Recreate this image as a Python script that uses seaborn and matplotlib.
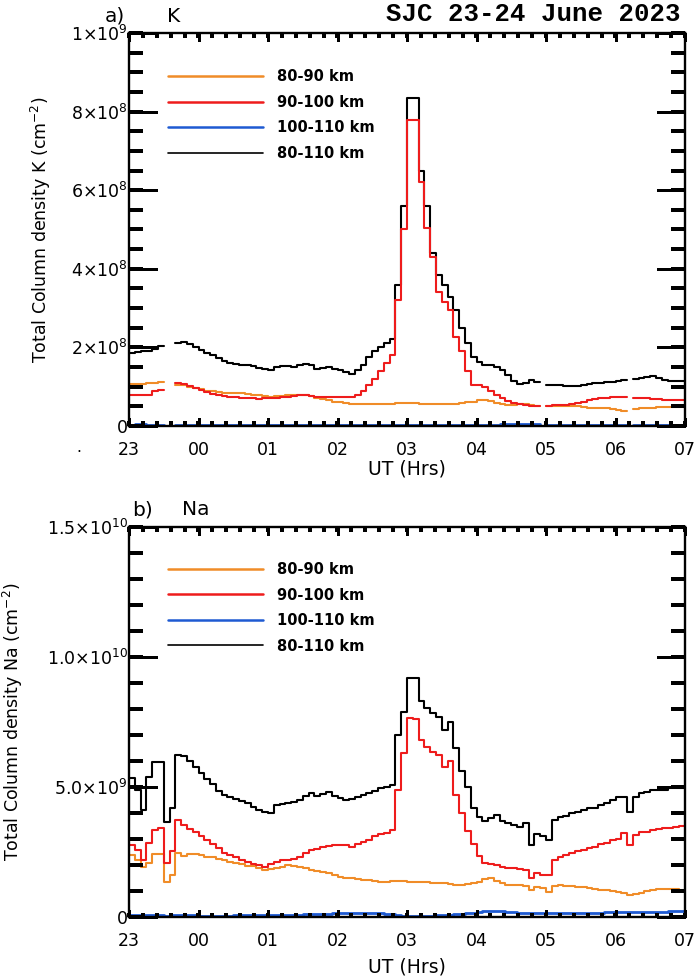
import numpy as np
import pandas as pd
import matplotlib
matplotlib.use('Agg')
import matplotlib.pyplot as plt
from matplotlib.lines import Line2D
from matplotlib.collections import LineCollection
from matplotlib.ticker import FixedLocator, FixedFormatter
import seaborn as sns

nan = np.nan

# ---------------- data ----------------
hour_labels = ['23', '00', '01', '02', '03', '04', '05', '06', '07']
hour_ticks = [23, 24, 25, 26, 27, 28, 29, 30, 31]
series_labels = ['80-90 km', '90-100 km', '100-110 km', '80-110 km']
series_colors = ['#F08C28', '#EE1C1C', '#1E5AD2', '#000000']
start_hour = 23.0
step_hours = 5.0 / 60.0

k_tick_values = [0, 2e8, 4e8, 6e8, 8e8, 1e9]
k_tick_labels = ['0', '2×10$^{8}$', '4×10$^{8}$', '6×10$^{8}$', '8×10$^{8}$', '1×10$^{9}$']
na_tick_values = [0, 5e9, 1e10, 1.5e10]
na_tick_labels = ['0', '5.0×10$^{9}$', '1.0×10$^{10}$', '1.5×10$^{10}$']

# K column densities, units of 1e8 cm^-2, 5-minute samples from 23:00 UT
k_80_90 = [1.07, 1.07, 1.08, 1.09, 1.10, 1.12, nan, nan, 1.05, 1.04, 1.00, 0.96, 0.93, 0.90, 0.88, 0.86,
           0.84, 0.84, 0.83, 0.83, 0.82, 0.80, 0.79, 0.76,
           0.74, 0.76, 0.77, 0.78, 0.78, 0.79, 0.78, 0.76, 0.72, 0.69, 0.66, 0.62, 0.60, 0.58, 0.57, 0.56,
           0.56, 0.56, 0.57, 0.56, 0.56, 0.57, 0.58, 0.58,
           0.59, 0.58, 0.57, 0.56, 0.56, 0.55, 0.56, 0.56, 0.57, 0.58, 0.60, 0.62, 0.65, 0.66, 0.63, 0.58,
           0.55, 0.53, 0.53, 0.55, 0.56, 0.54, 0.51, nan,
           0.51, 0.51, 0.51, 0.51, 0.50, 0.50, 0.48, 0.47, 0.47, 0.46, 0.45, 0.43, 0.41, 0.37, nan, 0.43,
           0.45, 0.46, 0.47, 0.48, 0.48, 0.48, 0.48, 0.48]
k_90_100 = [0.79, 0.79, 0.80, 0.80, 0.88, 0.92, nan, nan, 1.09, 1.08, 1.02, 0.97, 0.92, 0.86, 0.82, 0.79,
            0.77, 0.74, 0.73, 0.72, 0.71, 0.70, 0.69, 0.70,
            0.71, 0.72, 0.73, 0.75, 0.77, 0.79, 0.78, 0.76, 0.74, 0.74, 0.75, 0.74, 0.74, 0.74, 0.75, 0.80,
            0.90, 1.05, 1.20, 1.40, 1.60, 1.80, 3.20, 5.00,
            7.79, 7.79, 6.20, 5.05, 4.30, 3.40, 3.15, 2.95, 2.26, 1.90, 1.40, 1.05, 1.05, 0.98, 0.90, 0.80,
            0.72, 0.63, 0.58, 0.55, 0.53, 0.52, 0.50, nan,
            0.52, 0.53, 0.53, 0.53, 0.55, 0.58, 0.62, 0.66, 0.68, 0.70, 0.72, 0.73, 0.74, 0.74, nan, 0.72,
            0.70, 0.70, 0.69, 0.68, 0.67, 0.66, 0.66, 0.66]
k_100_110 = [0.02, 0.04, 0.05, 0.03, 0.02, 0.02, nan, nan, 0.02, 0.02, 0.02, 0.02, 0.02, 0.02, 0.02, 0.02,
             0.02, 0.02, 0.02, 0.02, 0.02, 0.02, 0.02, 0.02,
             0.02, 0.02, 0.02, 0.02, 0.02, 0.02, 0.02, 0.02, 0.02, 0.02, 0.02, 0.02, 0.02, 0.02, 0.02, 0.02,
             0.02, 0.02, 0.02, 0.02, 0.02, 0.02, 0.02, 0.02,
             0.02, 0.02, 0.02, 0.02, 0.02, 0.02, 0.02, 0.02, 0.02, 0.02, 0.02, 0.02, 0.02, 0.02, 0.03, 0.03,
             0.04, 0.04, 0.05, 0.05, 0.05, 0.06, 0.05, nan,
             0.02, 0.02, 0.02, 0.02, 0.02, 0.02, 0.02, 0.02, 0.02, 0.02, 0.02, 0.02, 0.02, 0.02, nan, 0.02,
             0.02, 0.02, 0.02, 0.02, 0.02, 0.02, 0.02, 0.02]
k_80_110 = [1.86, 1.88, 1.92, 1.90, 1.95, 2.03, nan, nan, 2.10, 2.13, 2.08, 2.00, 1.93, 1.87, 1.80, 1.73,
            1.65, 1.60, 1.57, 1.55, 1.55, 1.52, 1.48, 1.45,
            1.43, 1.50, 1.52, 1.52, 1.50, 1.55, 1.58, 1.55, 1.45, 1.47, 1.50, 1.45, 1.42, 1.38, 1.33, 1.42,
            1.55, 1.75, 1.90, 2.00, 2.12, 2.22, 3.60, 5.60,
            8.35, 8.35, 6.50, 5.60, 4.40, 3.85, 3.60, 3.28, 2.95, 2.50, 2.10, 1.75, 1.62, 1.55, 1.55, 1.50,
            1.42, 1.30, 1.15, 1.08, 1.10, 1.17, 1.12, nan,
            1.04, 1.04, 1.05, 1.03, 1.02, 1.02, 1.05, 1.08, 1.10, 1.10, 1.12, 1.13, 1.15, 1.17, nan, 1.20,
            1.22, 1.25, 1.27, 1.23, 1.18, 1.15, 1.15, 1.15]

# Na column densities, units of 1e9 cm^-2, 5-minute samples from 23:00 UT
na_80_90 = [2.38, 2.19, 1.92, 2.08, 2.42, 2.42, 1.35, 1.60, 2.46, 2.35, 2.42, 2.42, 2.38, 2.31, 2.31, 2.25,
            2.19, 2.12, 2.08, 2.04, 1.96, 1.96, 1.90, 1.81,
            1.85, 1.88, 1.92, 2.00, 1.96, 1.92, 1.88, 1.81, 1.78, 1.72, 1.69, 1.62, 1.55, 1.50, 1.50, 1.46,
            1.42, 1.42, 1.38, 1.35, 1.35, 1.38, 1.38, 1.38,
            1.35, 1.35, 1.35, 1.33, 1.31, 1.31, 1.30, 1.27, 1.23, 1.23, 1.27, 1.30, 1.35, 1.45, 1.50, 1.38,
            1.31, 1.25, 1.23, 1.23, 1.20, 1.04, 1.15, 1.12,
            0.96, 1.20, 1.23, 1.20, 1.18, 1.15, 1.15, 1.12, 1.08, 1.04, 1.02, 1.00, 0.96, 0.92, 0.85, 0.90,
            0.92, 1.00, 1.04, 1.06, 1.08, 1.08, 1.06, 1.04]
na_90_100 = [2.77, 2.58, 2.20, 2.85, 3.35, 3.42, 2.08, 2.55, 3.73, 3.55, 3.40, 3.27, 3.10, 2.96, 2.80, 2.65,
             2.45, 2.38, 2.30, 2.20, 2.12, 2.05, 2.00, 1.92,
             2.05, 2.10, 2.19, 2.19, 2.25, 2.30, 2.45, 2.58, 2.62, 2.70, 2.72, 2.77, 2.77, 2.77, 2.70, 2.80,
             2.90, 2.96, 3.10, 3.20, 3.25, 3.35, 4.88, 6.30,
             7.65, 7.60, 6.80, 6.54, 6.35, 6.23, 5.77, 6.00, 4.70, 4.00, 3.30, 2.80, 2.35, 2.08, 2.02, 2.00,
             1.92, 1.90, 1.88, 1.85, 1.81, 1.50, 1.69, 1.62,
             1.62, 2.19, 2.30, 2.38, 2.46, 2.52, 2.58, 2.65, 2.70, 2.80, 2.85, 2.96, 3.00, 3.23, 2.77, 3.15,
             3.27, 3.27, 3.35, 3.38, 3.42, 3.42, 3.45, 3.50]
na_100_110 = [0.06, 0.07, 0.08, 0.07, 0.06, 0.06, 0.05, 0.06, 0.07, 0.07, 0.06, 0.06, 0.05, 0.05, 0.05, 0.05,
              0.05, 0.05, 0.06, 0.06, 0.06, 0.06, 0.06, 0.06,
              0.06, 0.07, 0.07, 0.08, 0.08, 0.09, 0.10, 0.11, 0.12, 0.12, 0.13, 0.14, 0.15, 0.15, 0.15, 0.15,
              0.15, 0.14, 0.15, 0.15, 0.13, 0.10, 0.06, 0.04,
              0.03, 0.03, 0.04, 0.04, 0.05, 0.06, 0.07, 0.08, 0.10, 0.12, 0.14, 0.16, 0.18, 0.22, 0.24, 0.23,
              0.22, 0.20, 0.18, 0.17, 0.16, 0.16, 0.15, 0.15,
              0.15, 0.15, 0.15, 0.16, 0.16, 0.16, 0.17, 0.17, 0.17, 0.17, 0.18, 0.18, 0.18, 0.18, 0.19, 0.19,
              0.20, 0.20, 0.20, 0.21, 0.21, 0.22, 0.22, 0.22]
na_80_110 = [5.35, 4.90, 4.10, 5.40, 5.96, 5.96, 3.65, 4.20, 6.23, 6.20, 6.00, 5.77, 5.55, 5.30, 5.10, 4.85,
             4.70, 4.60, 4.55, 4.45, 4.38, 4.25, 4.10, 4.02,
             4.00, 4.30, 4.35, 4.38, 4.42, 4.50, 4.65, 4.77, 4.65, 4.75, 4.80, 4.65, 4.58, 4.50, 4.55, 4.62,
             4.70, 4.78, 4.85, 4.95, 5.00, 5.08, 7.00, 7.90,
             9.19, 9.19, 8.30, 8.05, 7.85, 7.70, 7.20, 7.50, 6.50, 5.60, 5.00, 4.20, 3.85, 3.70, 3.80, 3.92,
             3.70, 3.60, 3.54, 3.46, 3.62, 2.77, 3.20, 3.10,
             2.98, 3.73, 3.85, 3.90, 4.00, 4.04, 4.10, 4.19, 4.20, 4.30, 4.40, 4.50, 4.60, 4.62, 4.04, 4.62,
             4.77, 4.81, 4.88, 4.88, 4.90, 4.96, 4.96, 4.96]

# ---------------- style ----------------
sns.set_theme(style='ticks', rc={'text.color': 'black', 'axes.labelcolor': 'black',
                                 'xtick.color': 'black', 'ytick.color': 'black',
                                 'axes.edgecolor': 'black', 'axes.facecolor': 'white'})
plt.rcParams.update({'font.family': ['DejaVu Sans'], 'mathtext.default': 'regular',
                     'axes.linewidth': 1.7})

W, H = 699, 980
AX_W = 556
fig = plt.figure(figsize=(W / 100, H / 100), dpi=100)
ax1 = fig.add_axes([129 / W, 1 - 426 / H, AX_W / W, 393 / H])
ax2 = fig.add_axes([129 / W, 1 - 917 / H, AX_W / W, 390 / H])
ax_heights = {ax1: 393, ax2: 390}

line_widths = [1.5, 1.5, 2.0, 1.5]
line_z = [3, 4, 5, 2]


def draw_panel(ax, series, scale):
    t = start_hour + np.arange(len(series[0])) * step_hours
    for vals, color, lw, z in zip(series, series_colors, line_widths, line_z):
        v = np.asarray(vals, dtype=float) * scale
        idx = np.where(~np.isnan(v))[0]
        splits = np.where(np.diff(idx) > 1)[0] + 1
        for run in np.split(idx, splits):
            tt = np.append(t[run], t[run[-1]] + step_hours)
            vv = np.append(v[run], v[run[-1]])
            df = pd.DataFrame({'t': tt, 'v': vv})
            sns.lineplot(data=df, x='t', y='v', ax=ax, color=color, lw=lw,
                         drawstyle='steps-post', estimator=None, sort=False,
                         legend=False, zorder=z, clip_on=(color != series_colors[2]))


draw_panel(ax1, [k_80_90, k_90_100, k_100_110, k_80_110], 1e8)
draw_panel(ax2, [na_80_90, na_90_100, na_100_110, na_80_110], 1e9)

ax1.set_ylim(k_tick_values[0], k_tick_values[-1])
ax1.yaxis.set_major_locator(FixedLocator(k_tick_values))
ax1.yaxis.set_major_formatter(FixedFormatter(k_tick_labels))
ax2.set_ylim(na_tick_values[0], na_tick_values[-1])
ax2.yaxis.set_major_locator(FixedLocator(na_tick_values))
ax2.yaxis.set_major_formatter(FixedFormatter(na_tick_labels))
y_minor_steps = {ax1: 0.5e8, ax2: 1e9}


def tick_marks(ax):
    """IDL-style inward ticks on all four sides."""
    h = ax_heights[ax]
    x_major = np.asarray(hour_ticks, dtype=float)
    x_minor = np.arange(hour_ticks[0], hour_ticks[-1] + 1e-9, 0.2)
    lo, hi = ax.get_ylim()
    y_major = np.asarray(ax.yaxis.get_majorticklocs(), dtype=float)
    y_minor = np.arange(lo, hi + 1e-6 * hi, y_minor_steps[ax])
    specs = []
    for xs, L, w in ((x_major, 7.5, 2.0), (x_minor, 4.5, 1.7)):
        f = L / h
        segs = [[(x, 0), (x, f)] for x in xs] + [[(x, 1), (x, 1 - f)] for x in xs]
        specs.append((segs, ax.get_xaxis_transform(), w))
    for ys, L, w in ((y_major, 28.0, 2.0), (y_minor, 14.0, 1.7)):
        f = L / AX_W
        segs = [[(0, y), (f, y)] for y in ys] + [[(1, y), (1 - f, y)] for y in ys]
        specs.append((segs, ax.get_yaxis_transform(), w))
    for segs, tr, w in specs:
        lc = LineCollection(segs, colors='black', linewidths=w, transform=tr,
                            clip_on=False, zorder=8, capstyle='butt', antialiased=False)
        ax.add_collection(lc, autolim=False)


for ax in (ax1, ax2):
    ax.set_xlim(hour_ticks[0], hour_ticks[-1])
    ax.xaxis.set_major_locator(FixedLocator(hour_ticks))
    ax.xaxis.set_major_formatter(FixedFormatter(hour_labels))
    ax.tick_params(axis='x', which='both', direction='in', length=0, labelsize=12.5, pad=11)
    ax.tick_params(axis='y', which='both', direction='in', length=0, labelsize=12.5, pad=1)
    for s in ax.spines.values():
        s.set_visible(True)
        s.set_linewidth(1.7)
        s.set_color('black')
        s.set_zorder(7)
    ax.grid(False)
    tick_marks(ax)

ax1.set_ylabel('Total Column density K (cm$^{-2}$)', fontsize=12.5)
ax1.yaxis.set_label_coords(-0.137, 0.5)
ax2.set_ylabel('Total Column density Na (cm$^{-2}$)', fontsize=12.5)
ax2.yaxis.set_label_coords(-0.187, 0.5)
ax1.set_xlabel('UT (Hrs)', fontsize=13.5)
ax1.xaxis.set_label_coords(0.5, -0.0865)
ax2.set_xlabel('UT (Hrs)', fontsize=13.5)
ax2.xaxis.set_label_coords(0.5, -0.1026)

legend_widths = [1.8, 1.8, 1.8, 1.2]
for ax, ytop in ((ax1, 0.908), (ax2, 0.910)):
    handles = [Line2D([], [], color=c, lw=w) for c, w in zip(series_colors, legend_widths)]
    ax.legend(handles, series_labels, loc='upper left', bbox_to_anchor=(0.07, ytop),
              frameon=False, handlelength=6.5, handletextpad=0.95, labelspacing=0.72,
              borderpad=0, borderaxespad=0, prop={'size': 10.5, 'weight': 'bold'})

fig.text(681 / W, 1 - 21 / H, 'SJC 23-24 June 2023', ha='right', va='baseline',
         fontsize=18.5, fontweight='bold', family=['Liberation Mono', 'DejaVu Sans Mono'])
fig.text(105 / W, 1 - 22 / H, 'a)', fontsize=14.5, va='baseline')
fig.text(167 / W, 1 - 22 / H, 'K', fontsize=14.5, va='baseline')
fig.text(132 / W, 1 - 515 / H, 'b)', fontsize=14.5, va='baseline')
fig.text(182 / W, 1 - 515 / H, 'Na', fontsize=14.5, va='baseline')
fig.text(76 / W, 1 - 452 / H, '.', fontsize=11, va='baseline')

fig.savefig('out.png', dpi=100, facecolor='white')
